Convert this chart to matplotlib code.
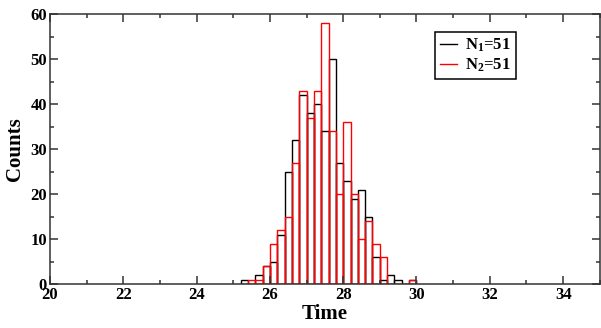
import numpy as np
import matplotlib

matplotlib.use("Agg")

import matplotlib.pyplot as plt
from matplotlib.lines import Line2D
from matplotlib.ticker import MultipleLocator

# histogram counts per 0.2-wide bin, first bin starts at 25.2
bin_start = 25.2
bin_width = 0.2
counts_n1 = [1, 0, 2, 4, 5, 11, 25, 32, 42, 38, 40, 34, 50, 27, 23, 19, 21, 15, 6, 1, 2, 1, 0, 1]
counts_n2 = [0, 1, 1, 4, 9, 12, 15, 27, 43, 37, 43, 58, 34, 20, 36, 20, 10, 14, 9, 6, 0, 0, 0, 1]
labels = ["N$_\\mathbf{1}$=51", "N$_\\mathbf{2}$=51"]
colors = ["black", "red"]

plt.rcParams["font.family"] = ["Liberation Serif", "DejaVu Serif"]
plt.rcParams["font.weight"] = "bold"
plt.rcParams["mathtext.fontset"] = "custom"
plt.rcParams["mathtext.rm"] = "Liberation Serif:bold"
plt.rcParams["mathtext.bf"] = "Liberation Serif:bold"
plt.rcParams["mathtext.it"] = "Liberation Serif:bold"

fig = plt.figure(figsize=(6.01, 3.28), dpi=100)
ax = fig.add_axes([0.083, 0.134, 0.915, 0.823])

left_edges = bin_start + bin_width * np.arange(len(counts_n1))
for counts, color in zip([counts_n1, counts_n2], colors):
    ax.bar(left_edges, counts, width=bin_width, align="edge", fill=False,
           edgecolor=color, linewidth=1.0)

ax.set_xlim(20, 35)
ax.set_ylim(0, 60)
ax.xaxis.set_major_locator(MultipleLocator(2))
ax.xaxis.set_minor_locator(MultipleLocator(1))
ax.yaxis.set_major_locator(MultipleLocator(10))
ax.yaxis.set_minor_locator(MultipleLocator(5))
ax.tick_params(which="both", direction="in", top=True, right=True, width=1.1,
               color="#333333")
ax.tick_params(which="major", length=6, labelsize=12, pad=2)
ax.tick_params(which="minor", length=3)
for spine in ax.spines.values():
    spine.set_linewidth(1.1)
    spine.set_color("#333333")

ax.set_xlabel("Time", fontsize=15, fontweight="bold", labelpad=1)
ax.set_ylabel("Counts", fontsize=15, fontweight="bold", labelpad=4)

handles = [Line2D([], [], color=c, linewidth=1.0) for c in colors]
leg = ax.legend(handles, labels, loc="upper left", bbox_to_anchor=(0.685, 0.965),
                fancybox=False, edgecolor="black", fontsize=12, handlelength=1.0,
                handletextpad=0.5, borderpad=0.3, labelspacing=0.15, framealpha=1)
leg.get_frame().set_linewidth(1.1)

fig.savefig("out.png", dpi=100)
